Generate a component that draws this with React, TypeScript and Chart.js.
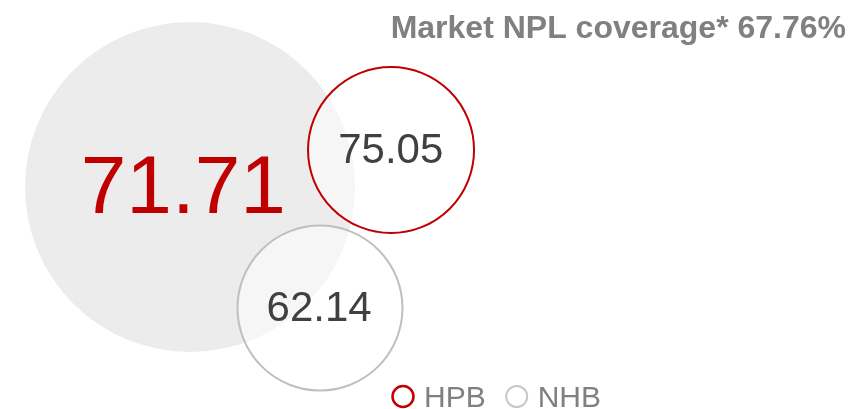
import React, { useEffect, useRef } from "react";
import { Chart, registerables } from "chart.js";

Chart.register(...registerables);

// ---- data ----
const bubbleNames = ["Sector", "HPB", "NHB"];
const coverageValues = [71.71, 75.05, 62.14];
const bubbleX = [22.33, 45.95, 37.6];
const bubbleY = [45.72, 36.67, 75.31];
const bubbleRadius = [165, 83, 82.5];
const inLegend = [false, true, true];
const titleText = "Market NPL coverage* 67.76%";

const FONT = "'Liberation Sans', Arial, Helvetica, sans-serif";
const fills = ["#ececec", "rgba(255,255,255,0.5)", "rgba(255,255,255,0.5)"];
const borders = ["rgba(0,0,0,0)", "#c00000", "#bfbfbf"];
const borderWidths = [0, 2, 2];
const drawOrder = [2, 1, 0];
const labelColors = ["#c00000", "#404040", "#404040"];
const labelSizes = [82, 42, 42];
const labelDx = [-6.5, 0, 0];

const decorPlugin = {
  id: "decor",
  afterDatasetsDraw(chart: any) {
    const ctx = chart.ctx;
    ctx.save();
    chart.data.datasets.forEach((ds: any, i: number) => {
      const meta = chart.getDatasetMeta(i);
      const el = meta.data[0];
      if (!el) return;
      const size = labelSizes[i];
      const txt = coverageValues[i].toFixed(2);
      ctx.font = `${size}px ${FONT}`;
      ctx.fillStyle = labelColors[i];
      ctx.textAlign = "left";
      ctx.textBaseline = "alphabetic";
      const m = ctx.measureText(txt);
      const inkL = -m.actualBoundingBoxLeft;
      const inkR = m.actualBoundingBoxRight;
      const cx = el.x + labelDx[i];
      ctx.fillText(txt, cx - (inkL + inkR) / 2, el.y + size * 0.32);
    });
    ctx.restore();
  },
  afterDraw(chart: any) {
    const ctx = chart.ctx;
    ctx.save();
    // title
    ctx.font = `bold 32px ${FONT}`;
    ctx.fillStyle = "#808080";
    ctx.textAlign = "right";
    ctx.textBaseline = "alphabetic";
    ctx.fillText(titleText, 846, 38);
    // legend
    ctx.font = `30px ${FONT}`;
    ctx.textAlign = "left";
    let x0 = 392;
    const cy = 396.5;
    const mr = 10.5;
    chart.data.datasets.forEach((ds: any, i: number) => {
      if (!inLegend[i]) return;
      ctx.beginPath();
      ctx.arc(x0 + mr + 0.5, cy, mr, 0, Math.PI * 2);
      ctx.lineWidth = i === 1 ? 2.5 : 2;
      ctx.strokeStyle = i === 1 ? "#c00000" : "#c8c8c8";
      ctx.stroke();
      const tx = x0 + 2 * mr + 11;
      ctx.fillStyle = "#808080";
      ctx.fillText(ds.label, tx, 407);
      x0 = tx + ctx.measureText(ds.label).width + 20;
    });
    ctx.restore();
  },
};

export default function App() {
  const ref = useRef<HTMLCanvasElement | null>(null);
  useEffect(() => {
    document.body.style.margin = "0";
    if (!ref.current) return;
    const chart = new Chart(ref.current, {
      type: "bubble",
      data: {
        datasets: bubbleNames.map((name, i) => ({
          label: name,
          data: [{ x: bubbleX[i], y: bubbleY[i], r: bubbleRadius[i] }],
          backgroundColor: fills[i],
          borderColor: borders[i],
          borderWidth: borderWidths[i],
          order: drawOrder[i],
          hoverRadius: 0,
          clip: false,
        })),
      },
      options: {
        animation: false,
        responsive: false,
        events: [],
        layout: { padding: 0, autoPadding: false },
        scales: {
          x: { type: "linear", min: 0, max: 100, display: false },
          y: { type: "linear", min: 0, max: 100, reverse: true, display: false },
        },
        plugins: {
          legend: { display: false },
          title: { display: false },
          tooltip: { enabled: false },
        },
      } as any,
      plugins: [decorPlugin],
    });
    return () => chart.destroy();
  }, []);
  return (
    <div style={{ width: 851, height: 409, background: "#ffffff" }}>
      <canvas ref={ref} width={851} height={409} style={{ display: "block" }} />
    </div>
  );
}
